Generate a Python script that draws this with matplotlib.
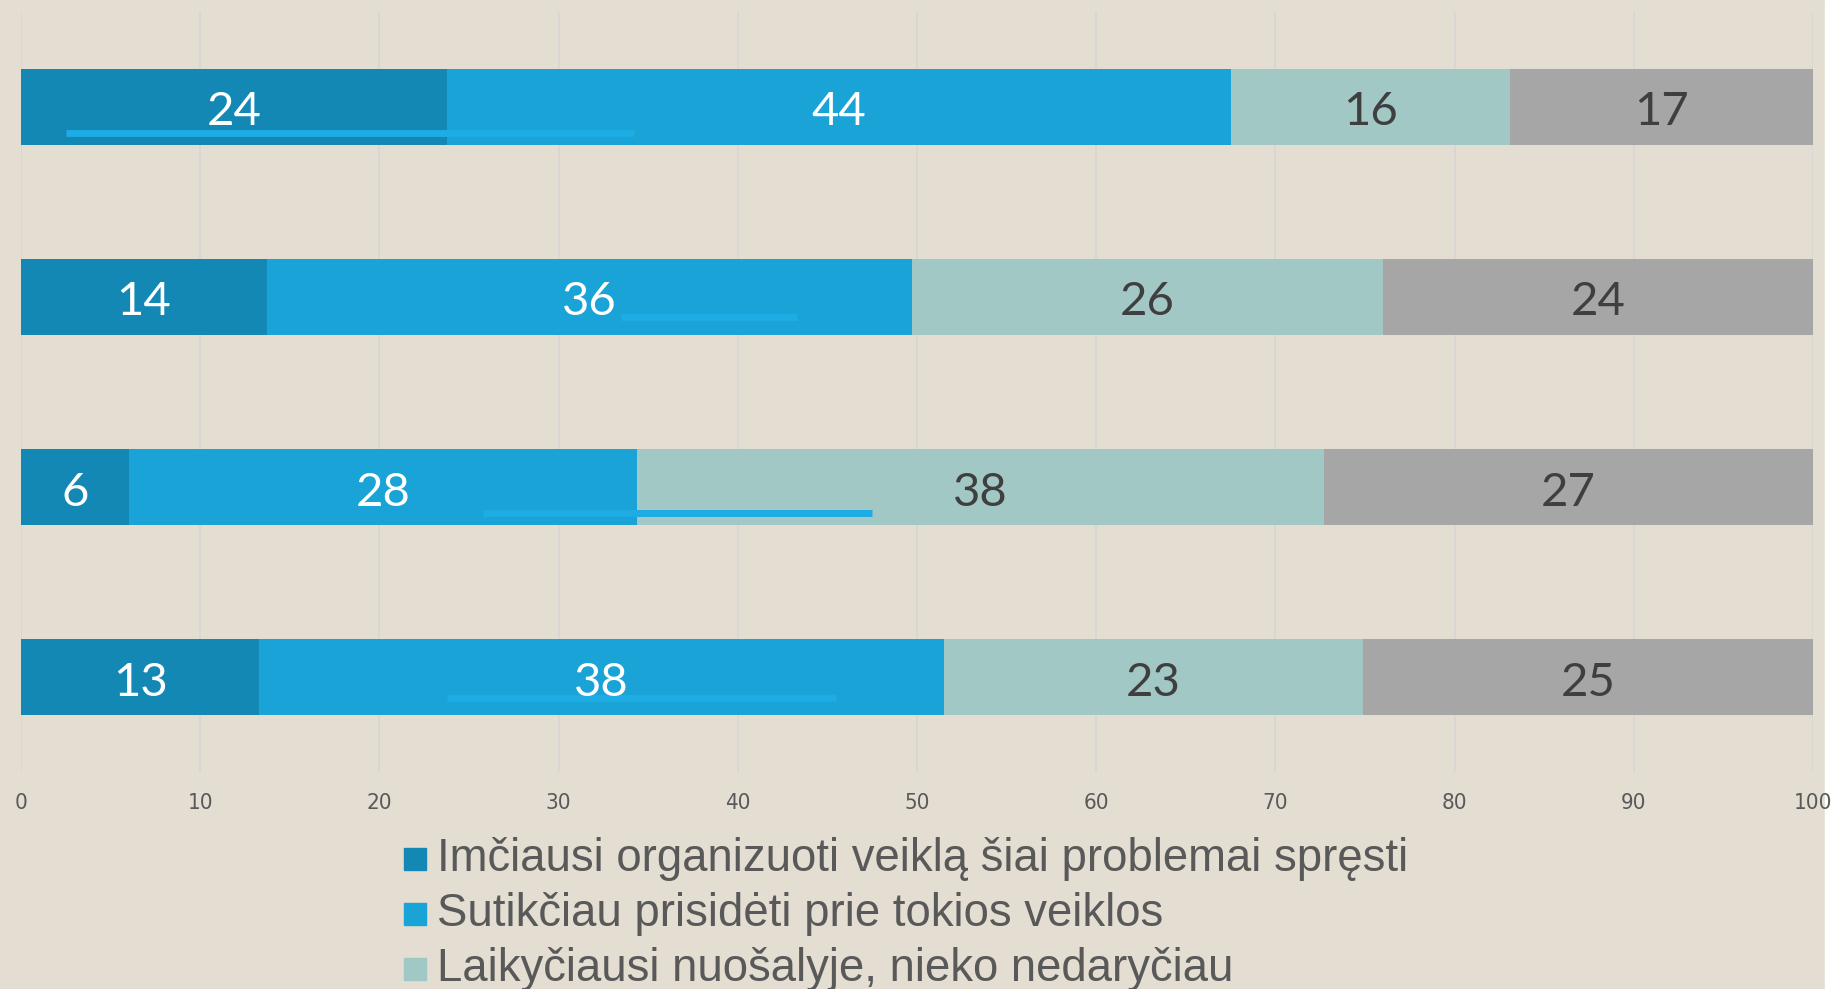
import matplotlib
matplotlib.use("Agg")
import matplotlib.pyplot as plt
from matplotlib.patches import Rectangle
from matplotlib import font_manager
import numpy as np

# ---------------- data ----------------
categories = ["A", "B", "C", "D"]          # row labels are not shown in the reference
series_names = [
    "Imčiausi organizuoti veiklą šiai problemai spręsti",
    "Sutikčiau prisidėti prie tokios veiklos",
    "Laikyčiausi nuošalyje, nieko nedaryčiau",
    "Nežinau",
]
s1 = [23.8, 13.7, 6.0, 13.3]
s2 = [43.7, 36.0, 28.4, 38.2]
s3 = [15.6, 26.3, 38.3, 23.4]
s4 = [16.9, 24.0, 27.3, 25.1]
series_values = [s1, s2, s3, s4]
x_ticks = [0, 10, 20, 30, 40, 50, 60, 70, 80, 90, 100]

# thin stray highlight strokes visible in the reference (data units)
overlay_start = [2.5, 33.5, 25.8, 23.8]
overlay_end = [34.2, 43.3, 47.5, 45.5]
overlay_offset = [0.137, 0.105, 0.137, 0.11]

# ---------------- fonts ----------------
names = {f.name for f in font_manager.fontManager.ttflist}
narrow_kw = dict(family="Liberation Sans", fontsize=16)
if "Liberation Sans Narrow" in names:
    narrow_kw = dict(family="Liberation Sans Narrow", fontsize=18)
elif any(f.name == "DejaVu Sans" and f.stretch == "condensed"
         for f in font_manager.fontManager.ttflist):
    narrow_kw = dict(family="DejaVu Sans", stretch="condensed", fontsize=16)

# ---------------- style ----------------
colors = ["#1388B4", "#1AA3D7", "#A2C8C6", "#A6A6A6"]
label_colors = ["white", "white", "#3F3F3F", "#3F3F3F"]
bg = "#E3DDD2"

W, H = 1837, 989
fig = plt.figure(figsize=(W / 100, H / 100), dpi=100, facecolor=bg)
# white strip at right edge (behind axes so the "100" label stays on top)
fig.patches.append(Rectangle((1825 / W, 0), 1, 1, transform=fig.transFigure,
                             color="white", zorder=-5))
ax = fig.add_axes([21 / W, 1 - 772 / H, (1813 - 21) / W, (772 - 11.5) / H])
ax.set_facecolor(bg)

y = np.arange(len(categories))
left = np.zeros(len(categories))
for vals, col, tcol in zip(series_values, colors, label_colors):
    vals = np.array(vals, dtype=float)
    ax.barh(y, vals, left=left, height=0.4, color=col, zorder=2)
    for yi, l, v in zip(y, left, vals):
        ax.text(l + v / 2, yi + 0.03, f"{int(round(v))}", ha="center", va="center",
                color=tcol, fontsize=34, family="Lato", fontweight="normal", zorder=4)
    left += vals

for yi, xs, xe, off in zip(y, overlay_start, overlay_end, overlay_offset):
    ax.hlines(yi + off, xs, xe, colors="#1DACE3", linewidth=5, zorder=3)

ax.set_xlim(0, 100)
ax.set_ylim(len(categories) - 0.5, -0.5)
ax.set_xticks(x_ticks)
ax.set_xticklabels([str(t) for t in x_ticks], color="#595959", **narrow_kw)
ax.tick_params(axis="x", length=0, pad=15)
ax.set_yticks([])
ax.grid(axis="x", color="#D7D7D5", linewidth=1.3, zorder=0)
for sp in ax.spines.values():
    sp.set_visible(False)

# legend (drawn manually to match spacing)
row_y = [859, 914, 969, 1024]
for name, col, ry in zip(series_names, colors, row_y):
    fig.patches.append(Rectangle((404 / W, 1 - (ry + 11) / H), 22 / W, 22 / H,
                                 transform=fig.transFigure, color=col))
    fig.text(437 / W, 1 - ry / H, name, ha="left", va="center",
             family="Liberation Sans", fontsize=32.8, color="#595959")

fig.savefig("out.png", dpi=100, facecolor=bg)
